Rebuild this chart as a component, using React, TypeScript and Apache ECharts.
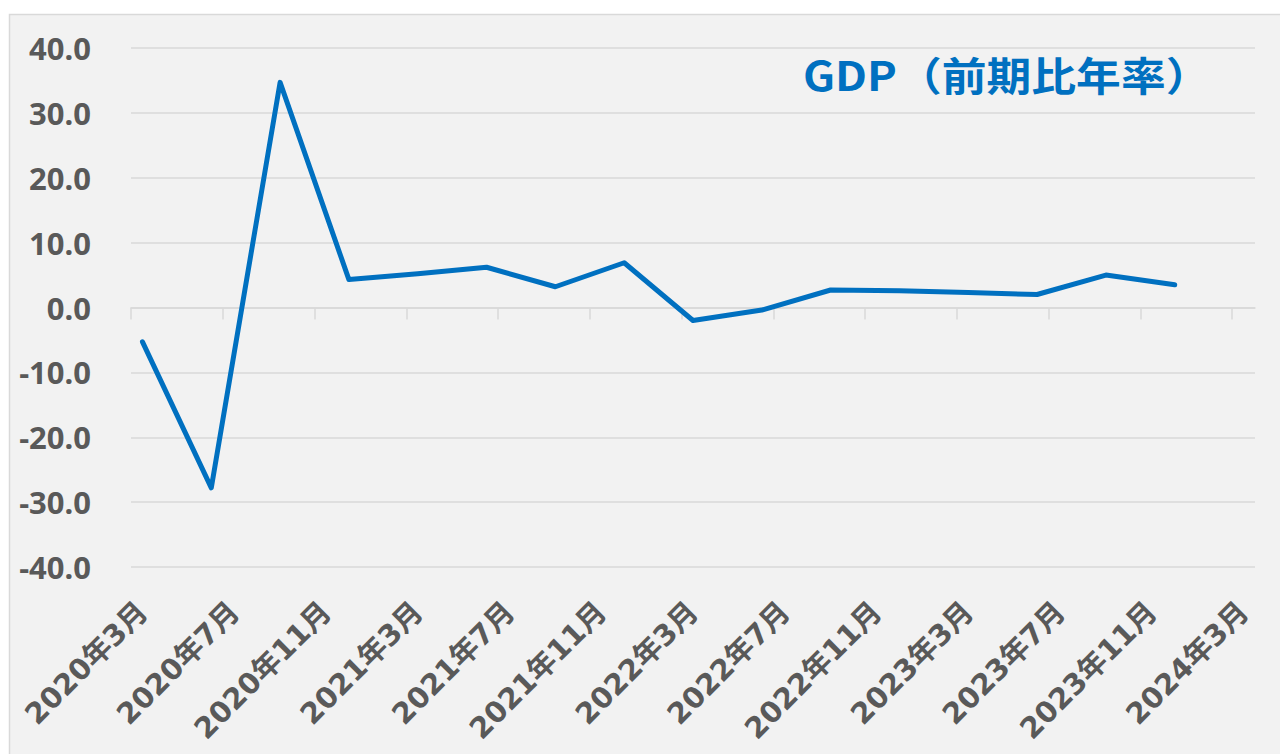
import React, { useEffect, useRef } from "react";
import * as echarts from "echarts";

// Month categories for the x axis (2020年3月 … 2024年3月)
const startYear = 2020;
const startMonth = 3;
const monthCount = 49;
const monthCategories: string[] = [];
for (let i = 0; i < monthCount; i++) {
  const m = startMonth - 1 + i;
  monthCategories.push(`${startYear + Math.floor(m / 12)}年${(m % 12) + 1}月`);
}

// Quarterly observations
const quarterLabels = [
  "2020年3月", "2020年6月", "2020年9月", "2020年12月",
  "2021年3月", "2021年6月", "2021年9月", "2021年12月",
  "2022年3月", "2022年6月", "2022年9月", "2022年12月",
  "2023年3月", "2023年6月", "2023年9月", "2023年12月",
];
const gdpValues = [
  -5.3, -27.8, 34.7, 4.3,
  5.2, 6.2, 3.2, 6.9,
  -2.0, -0.4, 2.7, 2.6,
  2.3, 2.0, 5.0, 3.5,
];

// Axis settings
const yMin = -40;
const yMax = 40;
const yInterval = 10;
const tickMonths = [0, 4, 8, 12, 16, 20, 24, 28, 32, 36, 40, 44, 48];

const titleText = "GDP（前期比年率）";

export default function App() {
  const ref = useRef<HTMLDivElement>(null);

  useEffect(() => {
    if (!ref.current) return;
    const chart = echarts.init(ref.current, undefined, { renderer: "svg" });
    const gray = "#595959";
    const lineGray = "#d9d9d9";
    chart.setOption({
      animation: false,
      backgroundColor: "#ffffff",
      graphic: {
        elements: [
          {
            type: "rect",
            z: -10,
            silent: true,
            shape: { x: 9.5, y: 14.5, width: 1300, height: 800 },
            style: { fill: "#f2f2f2", stroke: lineGray, lineWidth: 1.5 },
          },
          {
            type: "text",
            x: 803,
            y: 74,
            scaleX: 1.12,
            z: 10,
            style: {
              text: titleText,
              fill: "#0070c0",
              font: 'bold 40px "Noto Sans CJK JP"',
              textAlign: "left",
              textVerticalAlign: "middle",
            },
          },
        ],
      },
      grid: { left: 131, right: 25, top: 48, bottom: 187, containLabel: false },
      xAxis: [
        {
          type: "value",
          min: 0,
          max: monthCount,
          axisLine: { show: true, onZero: true, lineStyle: { color: lineGray, width: 1.5 } },
          axisTick: {
            show: true,
            length: 12,
            customValues: tickMonths,
            lineStyle: { color: lineGray, width: 1.5 },
          },
          axisLabel: { show: false },
          splitLine: { show: false },
        },
        {
          type: "category",
          data: monthCategories,
          boundaryGap: true,
          position: "bottom",
          axisLine: { show: false, onZero: false },
          axisTick: { show: false },
          splitLine: { show: false },
          axisLabel: {
            interval: 3,
            rotate: 45,
            margin: 40,
            color: gray,
            fontSize: 29,
            fontWeight: "bold",
            fontFamily: '"DejaVu Sans", "Noto Sans CJK JP", sans-serif',
          },
        },
      ],
      yAxis: {
        type: "value",
        min: yMin,
        max: yMax,
        interval: yInterval,
        axisLine: { show: false },
        axisTick: { show: false },
        splitLine: { show: true, lineStyle: { color: lineGray, width: 1.5 } },
        axisLabel: {
          margin: 40,
          color: gray,
          fontSize: 31,
          fontWeight: "bold",
          fontFamily: '"Noto Sans", sans-serif',
          formatter: (v: number) => v.toFixed(1),
        },
      },
      series: [
        {
          type: "line",
          xAxisIndex: 1,
          yAxisIndex: 0,
          data: quarterLabels.map((q, i) => [q, gdpValues[i]]),
          showSymbol: false,
          symbol: "none",
          lineStyle: { color: "#0070c0", width: 5, cap: "round", join: "round" },
          z: 5,
        },
      ],
    });
    return () => chart.dispose();
  }, []);

  return (
    <div
      ref={ref}
      style={{ position: "fixed", left: 0, top: 0, width: 1280, height: 754 }}
    />
  );
}
